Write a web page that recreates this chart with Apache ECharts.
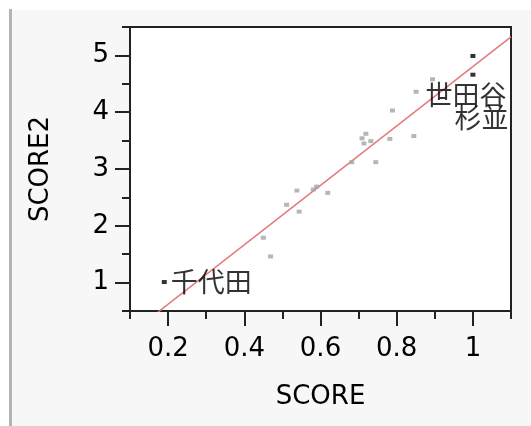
<!DOCTYPE html>
<html>
<head>
<meta charset="utf-8">
<script src="https://cdn.jsdelivr.net/npm/echarts@6/dist/echarts.min.js"></script>
<style>html,body{margin:0;padding:0;background:#fff;}#c{width:531px;height:426px;}</style>
</head>
<body>
<div id="c"></div>
<script>
// ---- data ----
const grayX = [0.851,0.894,0.789,0.782,0.845,0.719,0.709,0.714,0.732,0.682,0.745,0.590,0.581,0.619,0.538,0.511,0.544,0.450,0.469];
const grayY = [4.36,4.58,4.03,3.53,3.58,3.62,3.54,3.45,3.49,3.12,3.12,2.69,2.64,2.58,2.62,2.37,2.25,1.79,1.46];
const labNames = ['千代田','世田谷','杉並'];
const labX = [0.19,1.0,1.0];
const labY = [1.01,4.99,4.66];
const fitSlope = 5.23;
const fitIntercept = -0.426;
const xRange = [0.1,1.1];
const yRange = [0.5,5.5];
const xMajor = [0.2,0.4,0.6,0.8,1.0];
const xMinor = [0.1,0.3,0.5,0.7,0.9,1.1];
const yMajor = [1,2,3,4,5];
const yMinor = [0.5,1.5,2.5,3.5,4.5,5.5];

const fontLat = 'DejaVu Sans';
const fontCJK = '"Noto Sans CJK JP"';
const labelPos = ['right',[-45,41],[-16,45]];

const chart = echarts.init(document.getElementById('c'), null, {renderer:'canvas'});
const fitData = xRange.map(x => [x, fitIntercept + fitSlope * x]);

const option = {
  animation:false,
  backgroundColor:'#ffffff',
  graphic:[
    {type:'rect', shape:{x:12,y:10,width:519,height:416}, style:{fill:'#f7f7f7'}, z:-10},
    {type:'rect', shape:{x:9,y:9,width:3,height:417}, style:{fill:'#b4b4b4'}, z:-10}
  ],
  grid:{left:130,right:20,top:27,bottom:115,show:true,backgroundColor:'#ffffff',borderColor:'#222',borderWidth:2},
  xAxis:[
    {type:'value',min:xRange[0],max:xRange[1],
     axisLine:{show:true,lineStyle:{color:'#222',width:2}},
     axisTick:{show:true,customValues:xMajor,length:15,lineStyle:{color:'#222',width:2}},
     axisLabel:{customValues:xMajor,margin:25,color:'#000',fontFamily:fontLat,fontSize:26,
       formatter:v=>String(Math.round(v*10)/10)},
     splitLine:{show:false},
     name:'SCORE',nameLocation:'middle',nameGap:73,
     nameTextStyle:{color:'#000',fontFamily:fontLat,fontSize:26}},
    {type:'value',min:xRange[0],max:xRange[1],position:'bottom',
     axisLine:{show:false},
     axisTick:{show:true,customValues:xMinor,length:8,lineStyle:{color:'#222',width:2}},
     axisLabel:{show:false},splitLine:{show:false}}
  ],
  yAxis:[
    {type:'value',min:yRange[0],max:yRange[1],
     axisLine:{show:true,lineStyle:{color:'#222',width:2}},
     axisTick:{show:true,customValues:yMajor,length:15,lineStyle:{color:'#222',width:2}},
     axisLabel:{customValues:yMajor,margin:21,color:'#000',fontFamily:fontLat,fontSize:26},
     splitLine:{show:false},
     name:'SCORE2',nameLocation:'middle',nameGap:76,nameRotate:90,
     nameTextStyle:{color:'#000',fontFamily:fontLat,fontSize:26}},
    {type:'value',min:yRange[0],max:yRange[1],position:'left',
     axisLine:{show:false},
     axisTick:{show:true,customValues:yMinor,length:8,lineStyle:{color:'#222',width:2}},
     axisLabel:{show:false},splitLine:{show:false}}
  ],
  series:[
    {type:'line',data:fitData,showSymbol:false,symbol:'none',clip:true,
     lineStyle:{color:'#e5787e',width:1.5},z:3},
    {type:'scatter',symbol:'rect',symbolSize:[5,4],
     data:grayX.map((x,i)=>[x,grayY[i]]),
     itemStyle:{color:'#a4a4a4'},z:4},
    {type:'scatter',symbol:'rect',symbolSize:[5,4],
     data:labX.map((x,i)=>({value:[x,labY[i]],name:labNames[i],
       label:{show:true,position:labelPos[i],distance:4,align:'left',verticalAlign:'middle',
         formatter:labNames[i],color:'#000',fontFamily:fontCJK,fontSize:27}})),
     itemStyle:{color:'#000'},z:5}
  ]
};
chart.setOption(option);
</script>
</body>
</html>
